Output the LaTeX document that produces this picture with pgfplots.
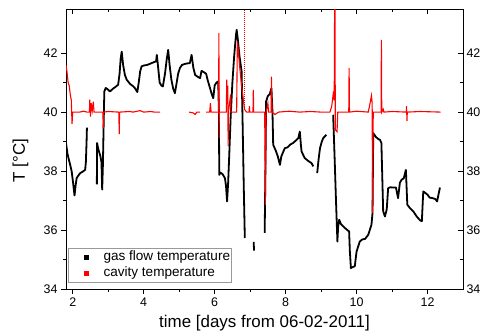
\documentclass[border=0pt]{standalone}
\usepackage{fontspec}
\setmainfont{Liberation Sans}
\usepackage{pgfplots}
\pgfplotsset{compat=1.18}
\begin{document}
\begin{tikzpicture}
\useasboundingbox (-66bp,-43bp) rectangle (415bp,289bp);
\pgfplotsset{
  frame/.style={
    scale only axis, width=397bp, height=279.5bp,
    at={(0,0)}, anchor=south west,
    xmin=1.81, xmax=13.0, ymin=34, ymax=43.48,
    xtick={2,4,...,12}, ytick={34,36,...,42},
    minor x tick num=1, minor y tick num=1,
    major tick length=5bp, minor tick length=3bp,
    tick style={black, line width=0.8bp},
    axis line style={black, line width=0.9bp},
    /pgf/number format/assume math mode=true,
    tick label style={font=\fontsize{12.5}{12.5}\selectfont},
  }
}
% top and right: ticks inside, labels right
\begin{axis}[frame, tick align=inside, xtick pos=right, ytick pos=right,
  yticklabel pos=right, xticklabels={,,}]
\end{axis}
% bottom and left: ticks outside, data
\begin{axis}[frame, tick align=outside, xtick pos=left, ytick pos=left,
  xlabel={time [days from 06-02-2011]},
  ylabel={T [°C]},
  label style={font=\fontsize{17}{17}\selectfont},
  xlabel style={at={(rel axis cs:0.5,0)}, anchor=base, yshift=-38bp},
  ylabel style={at={(axis description cs:-0.1146,0.459)}, anchor=center},
  unbounded coords=jump,
  legend style={at={(rel axis cs:0.006,0.0225)}, anchor=south west,
    draw=gray!80, font=\fontsize{13.6}{13.6}\selectfont,
    inner xsep=0bp, inner ysep=2bp, row sep=1.2bp,
    nodes={inner sep=1bp, text height=9bp, text depth=3.5bp}},
  legend cell align=left,
  legend image code/.code={\fill (15.4bp,-2bp) rectangle (19.4bp,2bp);
    \path[draw=none] (0bp,0bp) (34bp,0bp);},
]
\addlegendimage{black}
\addlegendentry{gas flow temperature}
\addlegendimage{red}
\addlegendentry{cavity temperature}

\addplot[black, line width=1.8bp, line join=round, forget plot] coordinates {
(1.81,38.95)(1.85,38.6)(1.88,38.44)(1.93,38.2)(1.97,37.99)(2.01,37.6)(2.05,37.17)
(2.08,37.5)(2.11,37.76)(2.16,37.85)(2.21,37.93)(2.28,37.98)(2.35,38.04)(2.37,38.3)
(2.39,39.0)(2.40,39.47)(2.5,nan)
(2.68,37.55)(2.685,38.95)(2.72,38.75)(2.78,38.5)(2.81,38.3)(2.83,37.37)(2.85,38.2)
(2.87,39.5)(2.89,40.7)(2.93,40.82)(2.98,40.78)(3.05,40.7)(3.12,40.78)(3.2,40.85)
(3.28,40.93)(3.32,41.3)(3.35,41.8)(3.38,42.05)(3.42,41.6)(3.47,41.26)(3.52,41.1)
(3.56,41.04)(3.62,40.95)(3.71,40.87)(3.76,40.8)(3.82,40.68)(3.86,41.0)(3.90,41.38)
(3.94,41.55)(4.0,41.58)(4.1,41.6)(4.2,41.65)(4.3,41.7)(4.35,41.72)(4.37,41.94)
(4.40,41.6)(4.45,41.0)(4.50,40.9)(4.54,40.87)(4.60,41.3)(4.65,41.8)(4.69,42.11)
(4.73,41.6)(4.78,41.1)(4.83,40.8)(4.88,40.64)(4.93,41.0)(4.97,41.3)(5.02,41.49)
(5.08,41.6)(5.15,41.63)(5.22,41.65)(5.30,41.66)(5.35,41.94)(5.40,41.5)(5.45,41.26)
(5.52,41.2)(5.59,41.15)(5.63,41.4)(5.70,41.35)(5.76,41.3)(5.80,41.1)(5.87,40.81)
(5.92,40.6)(5.96,40.47)(6.0,40.9)(6.05,41.0)(6.10,41.04)(6.12,40.0)(6.13,37.87)
(6.16,37.95)(6.22,37.9)(6.29,37.76)(6.32,37.5)(6.35,36.97)(6.38,37.6)(6.41,38.5)
(6.45,39.8)(6.50,41.0)(6.55,41.9)(6.60,42.6)(6.62,42.79)(6.65,42.5)(6.70,41.9)
(6.76,41.38)(6.79,39.5)(6.82,37.5)(6.85,35.73)(6.9,nan)
(7.10,35.6)(7.11,35.3)(7.2,nan)
(7.41,35.9)(7.43,38.0)(7.45,40.36)(7.50,40.55)(7.55,40.6)(7.60,40.81)(7.63,40.0)
(7.65,38.89)(7.72,38.7)(7.78,38.5)(7.84,38.21)(7.88,38.5)(7.95,38.7)(7.98,38.78)
(8.05,38.8)(8.13,38.9)(8.21,38.95)(8.30,39.05)(8.36,39.12)(8.40,39.34)(8.43,38.9)
(8.45,38.66)(8.54,38.44)(8.63,38.35)(8.73,38.27)(8.78,38.16)(8.85,nan)
(8.89,37.93)(8.93,38.4)(8.97,38.78)(9.02,39.0)(9.06,39.12)(9.15,39.23)(9.25,nan)
(9.34,39.91)(9.38,38.5)(9.42,37.0)(9.46,35.61)(9.48,36.1)(9.51,36.35)(9.56,36.2)
(9.67,36.07)(9.79,35.95)(9.81,35.3)(9.84,34.71)(9.90,34.75)(9.95,34.77)(10.0,35.27)
(10.09,35.61)(10.16,35.68)(10.24,35.7)(10.33,35.84)(10.42,36.18)(10.45,36.58)
(10.47,39.29)(10.55,39.15)(10.62,39.08)(10.66,39.06)(10.70,38.95)(10.75,36.63)
(10.80,36.46)(10.85,36.7)(10.89,37.42)(10.95,37.45)(11.05,37.44)(11.11,37.44)
(11.17,37.08)(11.22,37.6)(11.27,37.71)(11.33,37.75)(11.39,38.04)(11.43,36.86)
(11.50,36.75)(11.60,36.63)(11.70,36.45)(11.80,36.32)(11.84,36.3)(11.88,37.31)
(12.0,37.2)(12.06,37.1)(12.15,37.08)(12.22,37.05)(12.27,36.97)(12.30,37.15)(12.35,37.44)
};

\addplot[red, line width=1.1bp, forget plot] coordinates {
(1.81,41.6)(1.84,41.35)(1.87,41.0)(1.90,40.9)(1.93,40.6)(1.96,40.4)(1.98,39.6)
(2.00,40.0)(2.2,40.0)(2.3,40.03)(2.40,40.0)(2.47,40.0)(2.48,40.42)(2.50,39.85)
(2.52,40.3)(2.55,40.05)(2.58,40.35)(2.60,40.0)(2.75,40.0)(2.85,40.0)(2.86,39.45)
(2.87,40.0)(3.0,40.02)(3.30,40.0)(3.31,39.25)(3.32,40.0)(3.6,40.02)(3.7,40.0)
(3.9,40.05)(4.0,40.0)(4.2,40.02)(4.3,40.0)(4.46,40.0)(4.8,nan)
(5.28,40.0)(5.40,39.97)(5.45,39.92)(5.50,40.0)(5.59,40.0)(5.68,nan)
(5.76,40.0)(5.86,40.0)(5.88,40.3)(5.90,40.0)(6.11,40.0)(6.12,42.68)(6.125,39.12)
(6.13,40.0)(6.33,40.0)(6.34,41.1)(6.35,40.5)(6.37,40.9)(6.38,38.85)(6.39,40.0)
(6.45,40.6)(6.46,40.0)(6.62,40.0)(6.64,42.4)(6.66,42.2)(6.70,41.6)(6.75,41.0)
(6.80,40.5)(6.84,40.1)(6.90,40.0)(6.97,40.0)(6.98,40.2)(6.99,40.0)(7.08,40.0)
(7.09,40.75)(7.10,40.0)(7.41,40.0)(7.43,36.85)(7.45,40.0)(7.50,40.3)(7.52,40.0)
(7.59,40.0)(7.60,41.2)(7.62,40.0)(7.70,39.92)(7.8,40.0)(8.1,40.03)(8.4,40.0)
(8.7,40.02)(9.0,40.0)(9.25,40.0)(9.30,40.2)(9.34,40.6)(9.37,40.4)(9.39,46)
(9.40,39.4)(9.45,39.34)(9.47,40.0)(9.78,40.0)(9.79,41.5)(9.80,40.0)(10.0,40.03)
(10.33,40.0)(10.38,40.3)(10.42,40.56)(10.44,40.3)(10.45,36.58)(10.47,40.0)
(10.69,40.0)(10.70,42.45)(10.71,40.0)(10.75,40.1)(10.77,40.0)(11.0,40.02)
(11.40,40.0)(11.41,40.2)(11.42,39.7)(11.43,40.0)(11.8,40.02)(12.37,40.0)
};
\addplot[red, line width=1bp, densely dotted, forget plot] coordinates {
(6.85,40.1)(6.85,43.6)
};
\end{axis}
\end{tikzpicture}
\end{document}
